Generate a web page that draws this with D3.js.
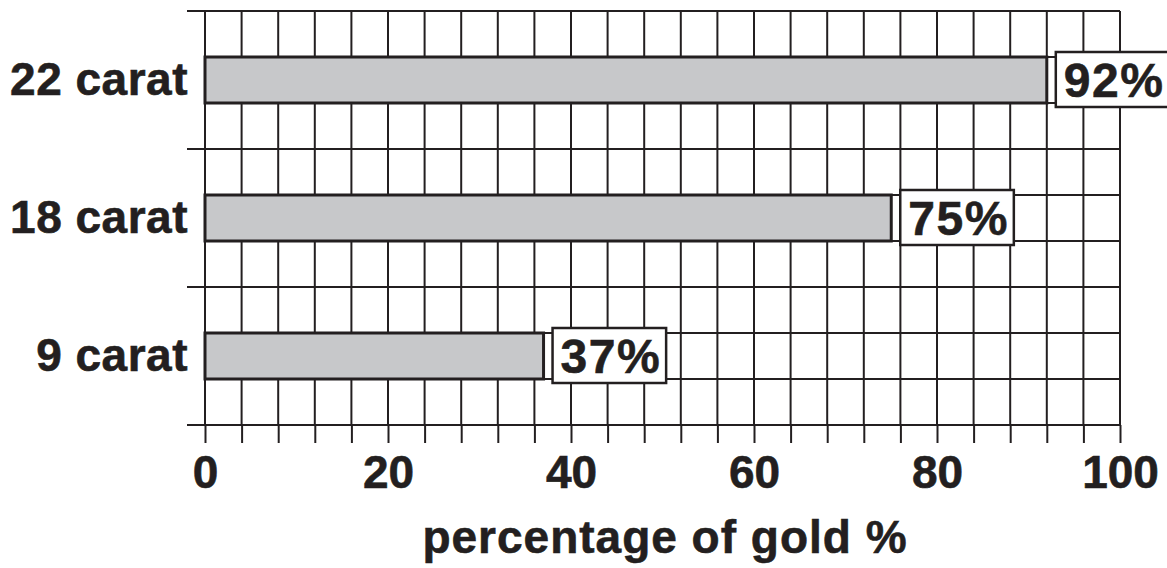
<!DOCTYPE html>
<html>
<head>
<meta charset="utf-8">
<script src="https://cdn.jsdelivr.net/npm/d3@7"></script>
<style>
  body { margin: 0; background: #fff; }
  svg { display: block; }
  text { font-family: "Liberation Sans", Arial, Helvetica, sans-serif; font-weight: bold; fill: #231f20; stroke: #231f20; stroke-width: 0.6px; }
</style>
</head>
<body>
<div id="chart"></div>
<script>
// chart data
const categories = ['22 carat', '18 carat', '9 carat'];
const goldPercent = [92, 75, 37];
const xTickLabels = [0, 20, 40, 60, 80, 100];
const gridStep = 4;
const axisTitle = 'percentage of gold %';

const width = 1167;
const height = 568;
const ink = '#231f20';

const svg = d3.select('#chart').append('svg')
    .attr('width', width)
    .attr('height', height);

// scales
const x = d3.scaleLinear()
    .domain([0, 100])
    .range([205, 1120]);

const plotTop = 11, plotBottom = 425;
const rows = 9;
const rowH = (plotBottom - plotTop) / rows;

// bars sit in the middle third of each category band
const y = d3.scaleBand()
    .domain(categories)
    .range([plotTop, plotBottom])
    .paddingInner(2 / 3)
    .paddingOuter(1 / 3);

const band = d3.scaleBand()
    .domain(categories)
    .range([plotTop, plotBottom]);

// grid
const gridX = d3.range(0, 100 + gridStep, gridStep);
const gridY = d3.range(rows + 1).map(i => plotTop + i * rowH);

const grid = svg.append('g');
grid.selectAll('line.v')
    .data(gridX)
    .join('line')
    .attr('class', 'v')
    .attr('x1', d => x(d))
    .attr('x2', d => x(d))
    .attr('y1', plotTop)
    .attr('y2', plotBottom)
    .attr('stroke', ink)
    .attr('stroke-width', 2);

grid.selectAll('line.h')
    .data(gridY)
    .join('line')
    .attr('class', 'h')
    .attr('x1', x(0))
    .attr('x2', x(100))
    .attr('y1', d => d)
    .attr('y2', d => d)
    .attr('stroke', ink)
    .attr('stroke-width', 2);

// left ticks at category boundaries
const leftTicks = categories.map(c => band(c)).concat([plotBottom]);
grid.selectAll('line.lt')
    .data(leftTicks)
    .join('line')
    .attr('class', 'lt')
    .attr('x1', x(0) - 18)
    .attr('x2', x(0))
    .attr('y1', d => d)
    .attr('y2', d => d)
    .attr('stroke', ink)
    .attr('stroke-width', 2);

// bottom axis: small ticks at every grid column
const minorAxis = d3.axisBottom(x)
    .tickValues(gridX)
    .tickSize(18)
    .tickFormat('');

svg.append('g')
    .attr('transform', `translate(0,${plotBottom})`)
    .call(minorAxis)
    .call(g => g.select('.domain').remove())
    .call(g => g.selectAll('.tick line').attr('stroke', ink).attr('stroke-width', 2));

// bottom axis labels
const labelAxis = d3.axisBottom(x)
    .tickValues(xTickLabels)
    .tickSize(0)
    .tickPadding(0)
    .tickFormat(d3.format('d'));

svg.append('g')
    .attr('transform', `translate(0,${plotBottom})`)
    .call(labelAxis)
    .call(g => g.select('.domain').remove())
    .call(g => g.selectAll('.tick text')
        .attr('dy', null)
        .attr('y', 63)
        .attr('font-size', 46)
        .attr('font-family', '"Liberation Sans", Arial, sans-serif')
        .attr('font-weight', 'bold')
        .attr('fill', ink));

// axis title
svg.append('text')
    .attr('x', 665)
    .attr('y', 553)
    .attr('text-anchor', 'middle')
    .attr('font-size', 46)
    .attr('letter-spacing', 1)
    .text(axisTitle);

// category labels
svg.selectAll('text.cat')
    .data(categories)
    .join('text')
    .attr('class', 'cat')
    .attr('x', 188)
    .attr('y', d => y(d) + y.bandwidth() / 2 + 15)
    .attr('text-anchor', 'end')
    .attr('font-size', 46)
    .attr('letter-spacing', 0.5)
    .text(d => d);

// bars
const data = categories.map((c, i) => ({ cat: c, value: goldPercent[i] }));

svg.selectAll('rect.bar')
    .data(data)
    .join('rect')
    .attr('class', 'bar')
    .attr('x', x(0))
    .attr('y', d => y(d.cat))
    .attr('width', d => x(d.value) - x(0))
    .attr('height', y.bandwidth())
    .attr('fill', '#c7c8ca')
    .attr('stroke', ink)
    .attr('stroke-width', 3);

// value labels in boxes
const labels = svg.selectAll('g.vlabel')
    .data(data)
    .join('g')
    .attr('class', 'vlabel');

labels.each(function(d) {
    const g = d3.select(this);
    const box = g.append('rect');
    const t = g.append('text')
        .attr('font-size', 48)
        .attr('letter-spacing', 1.5)
        .attr('text-anchor', 'start')
        .text(d.value + '%');
    const tw = t.node().getComputedTextLength();
    const bx = x(d.value) + 9;
    const by = y(d.cat) - 5;
    box.attr('x', bx)
        .attr('y', by)
        .attr('width', tw + 13)
        .attr('height', y.bandwidth() + 9)
        .attr('fill', '#fff')
        .attr('stroke', ink)
        .attr('stroke-width', 2.5);
    t.attr('x', bx + 8)
        .attr('y', y(d.cat) + y.bandwidth() / 2 + 16.5);
});
</script>
</body>
</html>
